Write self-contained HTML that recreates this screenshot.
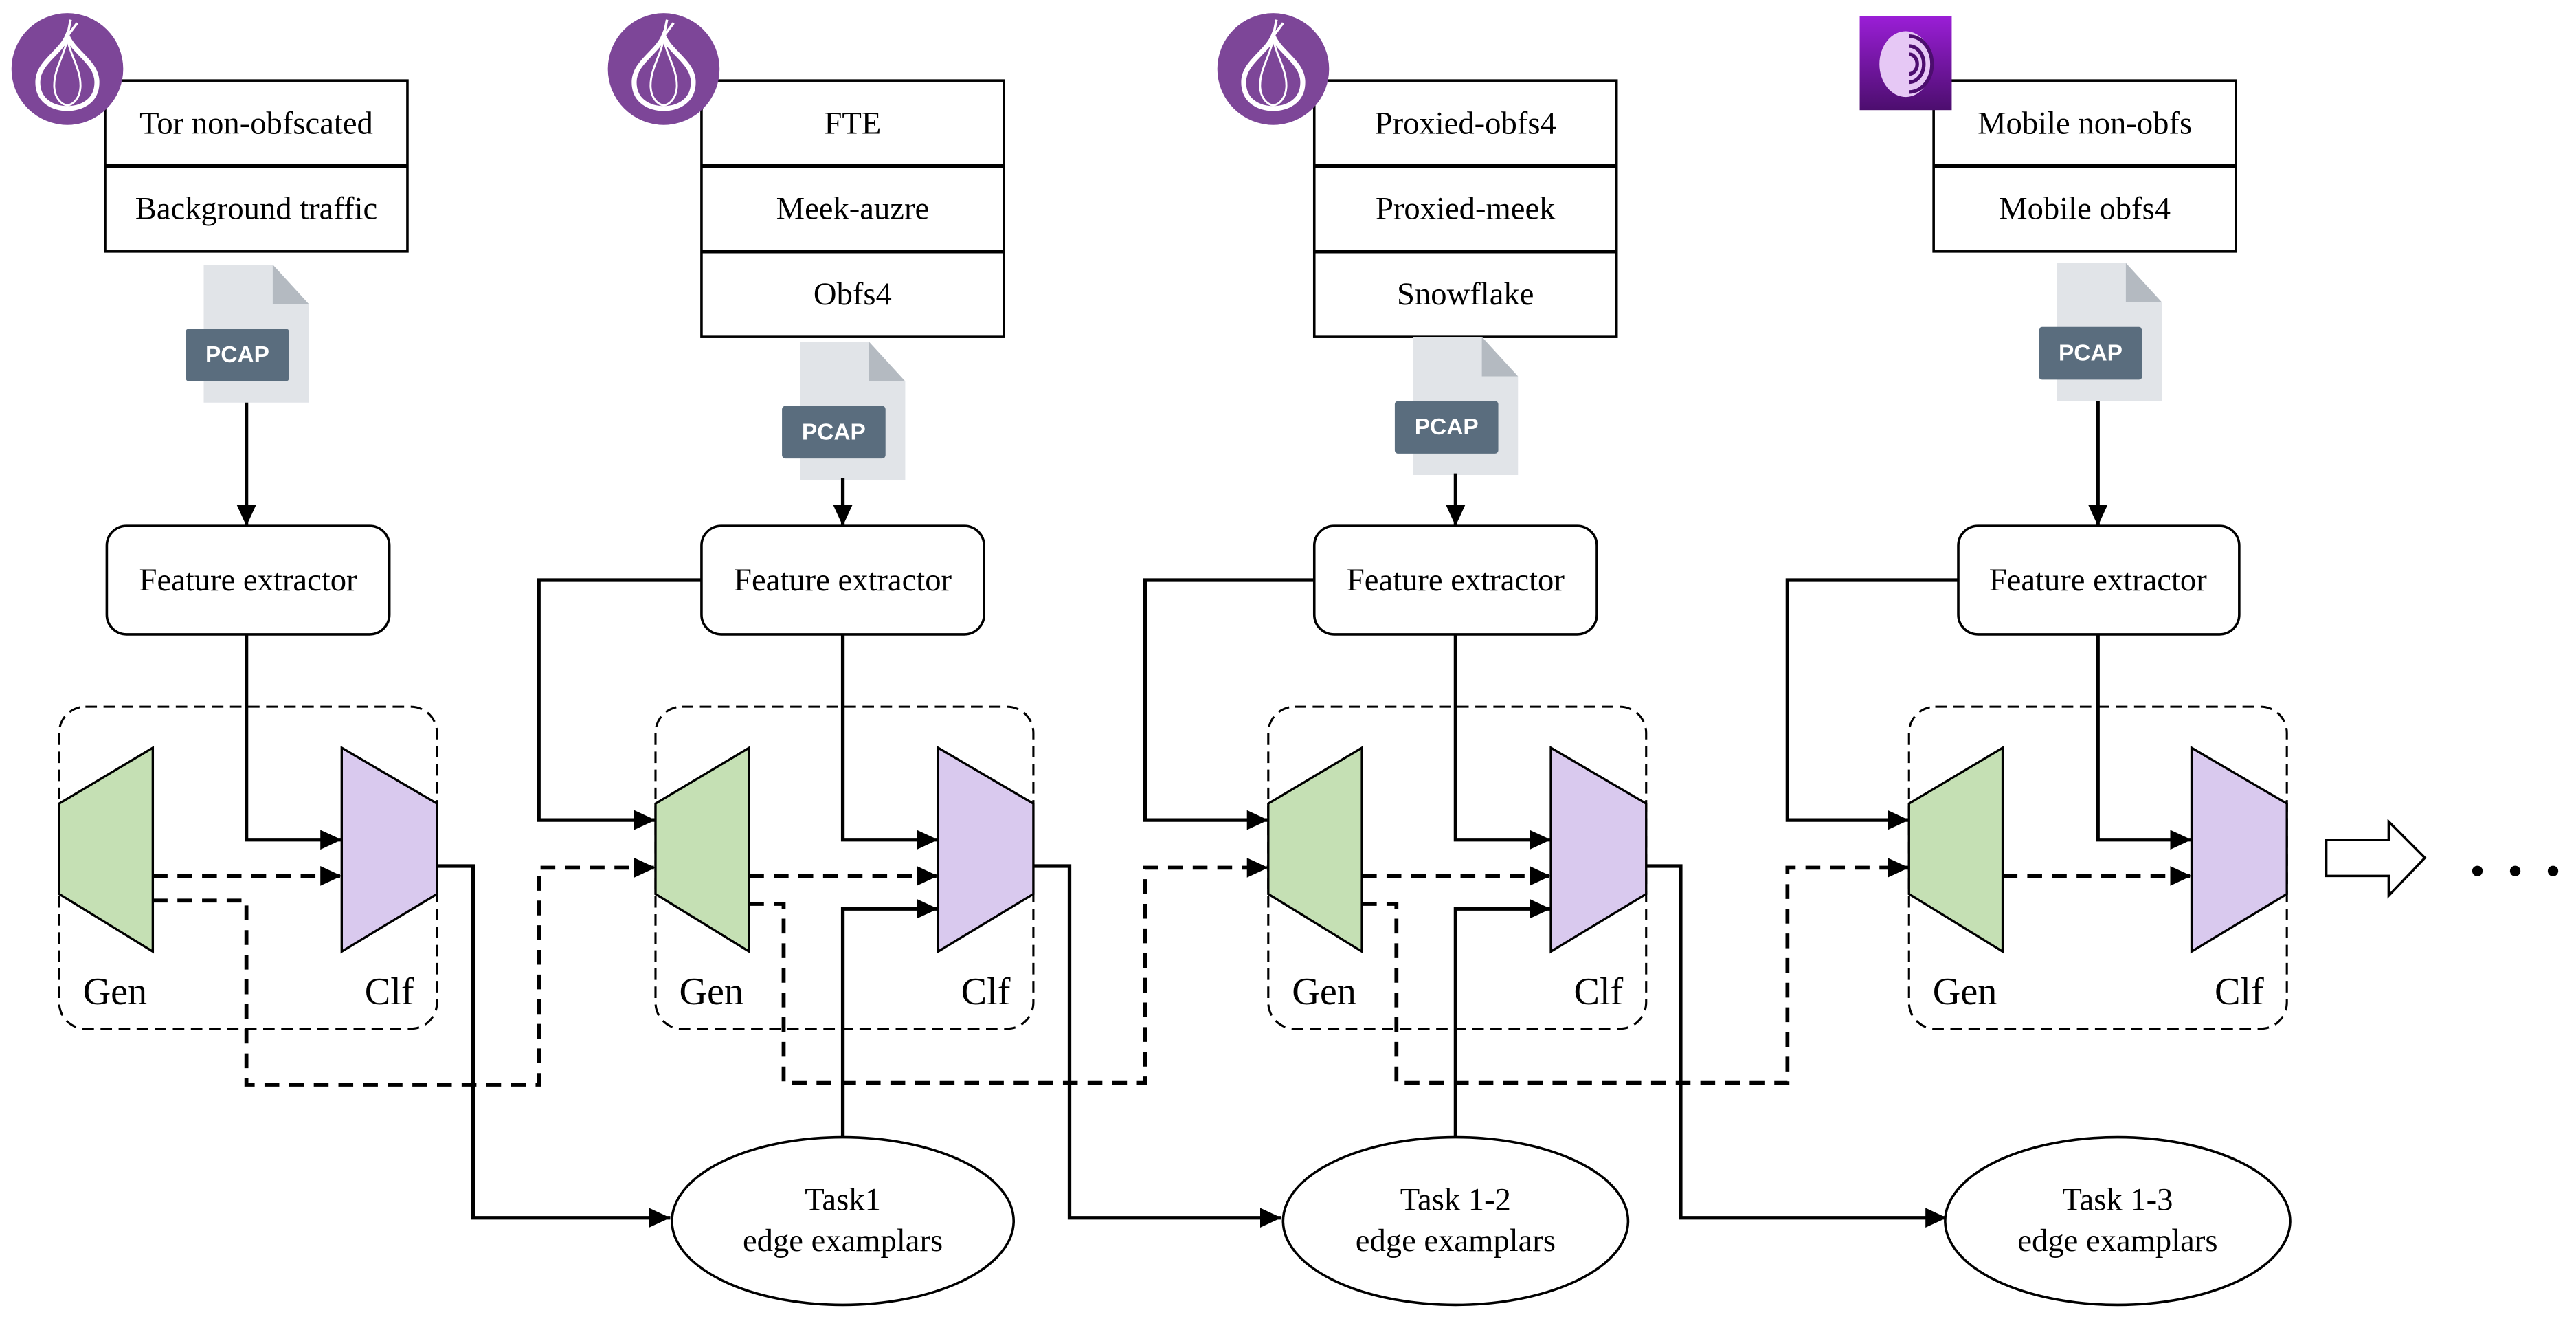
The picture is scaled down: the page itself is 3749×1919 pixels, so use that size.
<!DOCTYPE html>
<html><head><meta charset="utf-8"><style>
html,body{margin:0;padding:0;background:#fff;}
svg{display:block;}
svg text{font-family:"Liberation Serif","Times New Roman",serif;fill:#000;}
.t{font-size:19.5px;text-anchor:middle;dominant-baseline:central;}
.g{font-size:23.5px;text-anchor:middle;}
.s{fill:none;stroke:#000;stroke-width:2.2;}
.d{fill:none;stroke:#000;stroke-width:2.4;stroke-dasharray:9 6;}
.c{fill:none;stroke:#000;stroke-width:1.3;stroke-dasharray:7 4;}
.b{fill:#fff;stroke:#000;stroke-width:1.5;}
svg text.p{font-family:"Liberation Sans",sans-serif;font-weight:bold;font-size:14px;fill:#fff;text-anchor:middle;dominant-baseline:central;}
</style></head><body>
<svg width="3749" height="1919" viewBox="0 0 1568 802.6" xmlns="http://www.w3.org/2000/svg" font-family="Liberation Serif, serif">
<defs>
<marker id="a" markerUnits="userSpaceOnUse" markerWidth="14" markerHeight="14" refX="13" refY="7" orient="auto"><path d="M0,1 L13,7 L0,13 Z" fill="#000"/></marker>
<linearGradient id="pg" x1="0" y1="0" x2="0" y2="1"><stop offset="0" stop-color="#9a1ed6"/><stop offset="1" stop-color="#4c0e6e"/></linearGradient>
<g id="tor"><circle r="34" fill="#7d4698"/><path d="M0,-20 C-4,-10 -18,-4 -18,8 C-18,20 -8,24 0,24 C8,24 18,20 18,8 C18,-4 4,-10 0,-20 Z" fill="none" stroke="#fff" stroke-width="3"/><path d="M0,-18 C-2,-8 -8,0 -8,10 C-8,18 -3,22 0,22 M0,-18 C2,-8 8,0 8,10 C8,18 3,22 0,22" fill="none" stroke="#fff" stroke-width="1.2"/><path d="M0,-20 L6,-28 M0,-20 L2,-30" stroke="#fff" stroke-width="1.5"/></g>
<g id="pcap"><path d="M0,0 L42,0 L64,24 L64,84 L0,84 Z" fill="#e1e4e8"/><path d="M42,0 L42,24 L64,24 Z" fill="#b4bac1"/><rect x="-11" y="39" width="63" height="32" rx="2" fill="#5a6d7e"/><text class="p" x="20.5" y="55">PCAP</text></g>
</defs>

<rect class="b" x="64" y="49" width="184" height="104"/><line class="s" x1="64" y1="101" x2="248" y2="101" stroke-width="1.5"/>
<text class="t" x="156" y="75">Tor non-obfscated</text><text class="t" x="156" y="127">Background traffic</text>
<rect class="b" x="427" y="49" width="184" height="156"/><line class="s" x1="427" y1="101" x2="611" y2="101" stroke-width="1.5"/><line class="s" x1="427" y1="153" x2="611" y2="153" stroke-width="1.5"/>
<text class="t" x="519" y="75">FTE</text><text class="t" x="519" y="127">Meek-auzre</text><text class="t" x="519" y="179">Obfs4</text>
<rect class="b" x="800" y="49" width="184" height="156"/><line class="s" x1="800" y1="101" x2="984" y2="101" stroke-width="1.5"/><line class="s" x1="800" y1="153" x2="984" y2="153" stroke-width="1.5"/>
<text class="t" x="892" y="75">Proxied-obfs4</text><text class="t" x="892" y="127">Proxied-meek</text><text class="t" x="892" y="179">Snowflake</text>
<rect class="b" x="1177" y="49" width="184" height="104"/><line class="s" x1="1177" y1="101" x2="1361" y2="101" stroke-width="1.5"/>
<text class="t" x="1269" y="75">Mobile non-obfs</text><text class="t" x="1269" y="127">Mobile obfs4</text>

<use href="#tor" x="41" y="42"/><use href="#tor" x="404" y="42"/><use href="#tor" x="775" y="42"/>
<rect x="1132" y="10" width="56" height="57" fill="url(#pg)"/>
<ellipse cx="1160" cy="39" rx="16" ry="20" fill="#e6c8f5"/>
<path d="M1162,22 A14,17 0 0 1 1162,56 M1162,28 A9,11 0 0 1 1162,50 M1162,33 A5,6 0 0 1 1162,45" fill="none" stroke="#4c0e6e" stroke-width="2.2"/>

<use href="#pcap" x="124" y="161"/><use href="#pcap" x="487" y="208"/><use href="#pcap" x="860" y="205"/><use href="#pcap" x="1252" y="160"/>

<line class="s" x1="150" y1="245" x2="150" y2="320" marker-end="url(#a)"/>
<line class="s" x1="513" y1="291" x2="513" y2="320" marker-end="url(#a)"/>
<line class="s" x1="886" y1="288" x2="886" y2="320" marker-end="url(#a)"/>
<line class="s" x1="1277" y1="244" x2="1277" y2="320" marker-end="url(#a)"/>

<rect class="b" x="65" y="320" width="172" height="66" rx="12"/><text class="t" x="151" y="353">Feature extractor</text>
<rect class="b" x="427" y="320" width="172" height="66" rx="12"/><text class="t" x="513" y="353">Feature extractor</text>
<rect class="b" x="800" y="320" width="172" height="66" rx="12"/><text class="t" x="886" y="353">Feature extractor</text>
<rect class="b" x="1192" y="320" width="171" height="66" rx="12"/><text class="t" x="1277" y="353">Feature extractor</text>

<rect class="c" x="36" y="430" width="230" height="196" rx="16"/>
<rect class="c" x="399" y="430" width="230" height="196" rx="16"/>
<rect class="c" x="772" y="430" width="230" height="196" rx="16"/>
<rect class="c" x="1162" y="430" width="230" height="196" rx="16"/>

<g stroke="#000" stroke-width="1.4">
<polygon points="36,489 93,455 93,579 36,544" fill="#c5e0b4"/><polygon points="208,455 266,489 266,544 208,579" fill="#d9c9ee"/>
<polygon points="399,489 456,455 456,579 399,544" fill="#c5e0b4"/><polygon points="571,455 629,489 629,544 571,579" fill="#d9c9ee"/>
<polygon points="772,489 829,455 829,579 772,544" fill="#c5e0b4"/><polygon points="944,455 1002,489 1002,544 944,579" fill="#d9c9ee"/>
<polygon points="1162,489 1219,455 1219,579 1162,544" fill="#c5e0b4"/><polygon points="1334,455 1392,489 1392,544 1334,579" fill="#d9c9ee"/>
</g>
<text class="g" x="70" y="611">Gen</text><text class="g" x="237" y="611">Clf</text>
<text class="g" x="433" y="611">Gen</text><text class="g" x="600" y="611">Clf</text>
<text class="g" x="806" y="611">Gen</text><text class="g" x="973" y="611">Clf</text>
<text class="g" x="1196" y="611">Gen</text><text class="g" x="1363" y="611">Clf</text>

<polyline class="s" points="150,386 150,511 208,511" marker-end="url(#a)"/>
<polyline class="s" points="513,386 513,511 571,511" marker-end="url(#a)"/>
<polyline class="s" points="886,386 886,511 944,511" marker-end="url(#a)"/>
<polyline class="s" points="1277,386 1277,511 1334,511" marker-end="url(#a)"/>
<polyline class="s" points="427,353 328,353 328,499 399,499" marker-end="url(#a)"/>
<polyline class="s" points="800,353 697,353 697,499 772,499" marker-end="url(#a)"/>
<polyline class="s" points="1192,353 1088,353 1088,499 1162,499" marker-end="url(#a)"/>
<polyline class="d" points="93,533 208,533" marker-end="url(#a)"/>
<polyline class="d" points="456,533 571,533" marker-end="url(#a)"/>
<polyline class="d" points="829,533 944,533" marker-end="url(#a)"/>
<polyline class="d" points="1219,533 1334,533" marker-end="url(#a)"/>
<polyline class="d" points="93,548 150,548 150,660 328,660 328,528 399,528" marker-end="url(#a)"/>
<polyline class="d" points="456,550 477,550 477,659 697,659 697,528 772,528" marker-end="url(#a)"/>
<polyline class="d" points="829,550 850,550 850,659 1088,659 1088,528 1162,528" marker-end="url(#a)"/>
<polyline class="s" points="266,527 288,527 288,741 408,741" marker-end="url(#a)"/>
<polyline class="s" points="629,527 651,527 651,741 780,741" marker-end="url(#a)"/>
<polyline class="s" points="1002,527 1023,527 1023,741 1185,741" marker-end="url(#a)"/>
<polyline class="s" points="513,692 513,553 571,553" marker-end="url(#a)"/>
<polyline class="s" points="886,692 886,553 944,553" marker-end="url(#a)"/>

<ellipse class="b" cx="513" cy="743" rx="104" ry="51"/>
<text class="t" x="513" y="730">Task1</text><text class="t" x="513" y="755">edge examplars</text>
<ellipse class="b" cx="886" cy="743" rx="105" ry="51"/>
<text class="t" x="886" y="730">Task 1-2</text><text class="t" x="886" y="755">edge examplars</text>
<ellipse class="b" cx="1289" cy="743" rx="105" ry="51"/>
<text class="t" x="1289" y="730">Task 1-3</text><text class="t" x="1289" y="755">edge examplars</text>

<polygon points="1416,511 1454,511 1454,500 1476,522 1454,545 1454,533 1416,533" fill="#fff" stroke="#000" stroke-width="1.5"/>
<circle cx="1508" cy="530" r="3.2"/><circle cx="1531" cy="530" r="3.2"/><circle cx="1554" cy="530" r="3.2"/>
</svg>
</body></html>
